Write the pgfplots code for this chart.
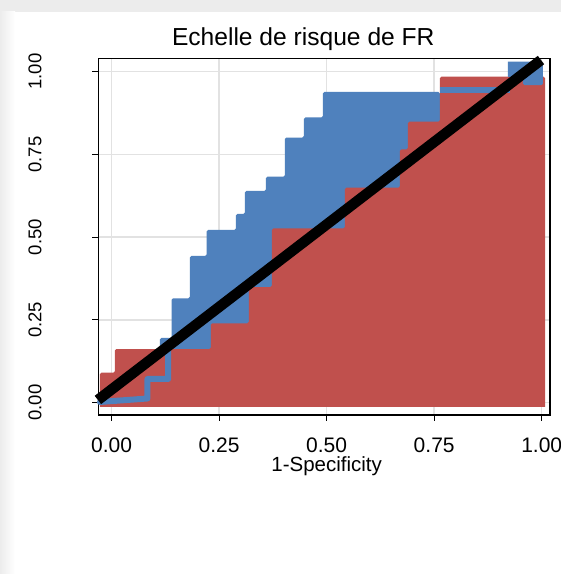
\documentclass[border=0pt]{standalone}
\usepackage{pgfplots}
\pgfplotsset{compat=1.18}
\usepackage{fontspec}
\setmainfont{Liberation Sans}
\definecolor{rocblue}{RGB}{79,129,189}
\definecolor{rocred}{RGB}{192,80,77}
\definecolor{gridgray}{RGB}{226,226,226}
\definecolor{bggray}{RGB}{236,236,236}
\begin{document}
\begin{tikzpicture}
\path[use as bounding box] (0,0) rectangle (561pt,574pt);
\fill[bggray] (0,0) rectangle (561pt,574pt);
\shade[left color=bggray, right color=white] (0,0) rectangle (15pt,562pt);
\fill[white] (15pt,0) rectangle (561pt,562pt);
\begin{axis}[
  at={(98.3pt,159pt)}, anchor=south west,
  scale only axis, width=451.7pt, height=356.7pt,
  xmin=-0.031, xmax=1.0193, ymin=-0.0372, ymax=1.0405,
  xtick={0,0.25,0.5,0.75,1}, xticklabels={0.00,0.25,0.50,0.75,1.00},
  ytick={0,0.25,0.5,0.75,1}, yticklabels={0.00,0.25,0.50,0.75,1.00},
  grid=major, major grid style={gridgray, line width=1.5pt},
  tick align=outside, major tick length=6pt, tick style={black, line width=1pt},
  xtick pos=lower, ytick pos=left,
  axis line style={black, line width=1.4pt},
  xticklabel style={font=\fontsize{21}{24}\selectfont, anchor=base, inner sep=0pt, yshift=-31.5pt},
  yticklabel style={font=\fontsize{18.5}{22}\selectfont, xshift=-51pt, rotate=90, anchor=base, inner sep=0pt},
  title={Echelle de risque de FR},
  title style={font=\fontsize{24.6}{28}\selectfont, at={(axis description cs:0.4538,1)}, anchor=base, inner sep=0pt, yshift=6.5pt},
  xlabel={1-Specificity},
  xlabel style={font=\fontsize{20.5}{24}\selectfont, at={(axis description cs:0.5056,0)}, anchor=base, inner sep=0pt, yshift=-57pt},
  clip=false,
]
% blue ROC area
\addplot[draw=none, fill=rocblue, rounded corners=1.5pt] coordinates {
(0.1123,-0.013) (0.1123,0.1955) (0.1395,0.1955) (0.1395,0.3154) (0.1821,0.3154)
(0.1821,0.4432) (0.2209,0.4432) (0.2209,0.5218) (0.2891,0.5218) (0.2891,0.5701)
(0.31,0.5701) (0.31,0.6396) (0.3588,0.6396) (0.3588,0.6828) (0.403,0.6828)
(0.403,0.8012) (0.4472,0.8012) (0.4472,0.8622) (0.4914,0.8622) (0.4914,0.9387)
(0.7635,0.9387) (0.7635,-0.013)};
% red ROC area
\addplot[draw=none, fill=rocred, rounded corners=1.5pt] coordinates {
(-0.0272,-0.013) (-0.0272,0.0906) (0.0077,0.0906) (0.0077,0.1622) (0.2309,0.1622)
(0.2309,0.2399) (0.3193,0.2399) (0.3193,0.3495) (0.3728,0.3495) (0.3728,0.5263)
(0.5426,0.5263) (0.5426,0.6495) (0.6705,0.6495) (0.6705,0.7656) (0.6891,0.7656)
(0.6891,0.8489) (0.7635,0.8489) (0.7635,0.9849) (1.0077,0.9849) (1.0077,-0.013)};
% blue ROC line parts over the red area
\addplot[rocblue, line width=6pt, line join=round, line cap=round] coordinates {
(-0.0272,0.0021) (0.0833,0.0127) (0.0833,0.0716) (0.1316,0.0716) (0.1316,0.1743)};
\addplot[rocblue, line width=6pt] coordinates {(0.7635,0.9447) (0.9263,0.9447)};
\addplot[draw=none, fill=rocblue, rounded corners=1.5pt] coordinates {
(0.9216,1.0302) (1.003,1.0302) (1.003,0.9598) (0.9565,0.9598) (0.9565,0.984) (0.9216,0.984)};
% reference line
\addplot[black, line width=10.5pt] coordinates {(-0.0319,0.0082) (0.9984,1.0353)};
\end{axis}
\end{tikzpicture}
\end{document}
